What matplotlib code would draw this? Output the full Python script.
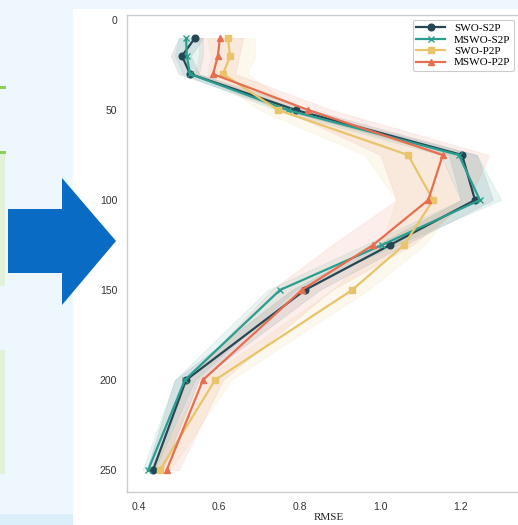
import matplotlib
matplotlib.use("Agg")
import matplotlib.pyplot as plt
from matplotlib.patches import Rectangle, Polygon
import numpy as np

# ---------------- data ----------------
depth = [10, 20, 30, 50, 75, 100, 125, 150, 200, 250]

swo_s2p = [0.540, 0.508, 0.528, 0.790, 1.203, 1.235, 1.024, 0.813, 0.518, 0.436]
swo_s2p_lo = [0.50, 0.48, 0.50, 0.76, 1.17, 1.20, 0.99, 0.78, 0.49, 0.42]
swo_s2p_hi = [0.56, 0.53, 0.55, 0.83, 1.24, 1.28, 1.06, 0.85, 0.55, 0.46]

mswo_s2p = [0.518, 0.520, 0.528, 0.770, 1.195, 1.247, 1.004, 0.751, 0.515, 0.424]
mswo_s2p_lo = [0.50, 0.49, 0.51, 0.74, 1.15, 1.20, 0.96, 0.72, 0.49, 0.41]
mswo_s2p_hi = [0.56, 0.56, 0.55, 0.80, 1.24, 1.30, 1.04, 0.79, 0.54, 0.44]

swo_p2p = [0.622, 0.627, 0.610, 0.746, 1.069, 1.131, 1.059, 0.930, 0.590, 0.453]
swo_p2p_lo = [0.57, 0.58, 0.57, 0.70, 0.96, 1.04, 1.00, 0.88, 0.56, 0.43]
swo_p2p_hi = [0.69, 0.69, 0.67, 0.80, 1.15, 1.20, 1.11, 0.97, 0.63, 0.48]

mswo_p2p = [0.602, 0.597, 0.585, 0.821, 1.155, 1.119, 0.982, 0.805, 0.560, 0.470]
mswo_p2p_lo = [0.55, 0.55, 0.54, 0.76, 1.00, 1.04, 0.88, 0.73, 0.52, 0.44]
mswo_p2p_hi = [0.66, 0.65, 0.64, 0.88, 1.27, 1.22, 1.08, 0.88, 0.61, 0.50]

labels = ["SWO-S2P", "MSWO-S2P", "SWO-P2P", "MSWO-P2P"]
colors = ["#264653", "#2a9d8f", "#e9c46a", "#e76f51"]
markers = ["o", "x", "s", "^"]

x_ticks = [0.4, 0.6, 0.8, 1.0, 1.2]
y_ticks = [0, 50, 100, 150, 200, 250]

# ---------------- figure ----------------
W, H = 518, 525
fig = plt.figure(figsize=(W / 100, H / 100), dpi=100)
fig.patch.set_facecolor("#eef7fd")


def fx(x):
    return x / W


def fy(y):
    return 1 - y / H


def rect(x0, y0, x1, y1, color, z=-5):
    fig.patches.append(Rectangle((fx(x0), fy(y1)), fx(x1) - fx(x0), fy(y0) - fy(y1),
                                 transform=fig.transFigure, facecolor=color,
                                 edgecolor="none", zorder=z))


# background decorations (screenshot context)
rect(73, 9, 518, 525, "white")
rect(0, 514, 73, 525, "#dbeffa")
rect(0, 86, 6, 88.5, "#8dcf50")
rect(0, 151, 6, 153.5, "#8dcf50")
rect(0, 153.5, 5, 286, "#e2f2d9")
rect(0, 350, 5, 474, "#e2f2d9")

# axes
left, right = 127, 530
top, bottom = 15, 492
ax = fig.add_axes([fx(left), fy(bottom), fx(right) - fx(left), fy(top) - fy(bottom)])
ax.set_zorder(1)
ax.set_facecolor("white")

series = [
    (swo_s2p, swo_s2p_lo, swo_s2p_hi),
    (mswo_s2p, mswo_s2p_lo, mswo_s2p_hi),
    (swo_p2p, swo_p2p_lo, swo_p2p_hi),
    (mswo_p2p, mswo_p2p_lo, mswo_p2p_hi),
]

for (v, lo, hi), lab, c, m in zip(series, labels, colors, markers):
    ax.fill_betweenx(depth, lo, hi, color=c, alpha=0.11, linewidth=0.5)

for (v, lo, hi), lab, c, m in zip(series, labels, colors, markers):
    kw = dict(markersize=4.8)
    if m == "x":
        kw = dict(markersize=5, markeredgewidth=1.0)
    ax.plot(v, depth, color=c, marker=m, linewidth=1.6, label=lab, **kw)

ax.set_xlim(0.3715, 0.3715 + (right - left) / 403)
ax.set_ylim(262.2, -2.78)
ax.set_xticks(x_ticks)
ax.set_yticks(y_ticks)
ax.tick_params(length=0, labelsize=7.5, labelcolor="#333333", pad=7)
for lab in ax.get_xticklabels() + ax.get_yticklabels():
    lab.set_fontfamily("Liberation Sans")
for s in ax.spines.values():
    s.set_color("#cccccc")
    s.set_linewidth(1.0)

ax.set_xlabel("RMSE", fontfamily="Liberation Serif", fontsize=8, color="#222222", labelpad=1)

leg = ax.legend(loc="upper right", bbox_to_anchor=(fx(514), fy(20)),
                bbox_transform=fig.transFigure,
                prop={"family": "Liberation Serif", "size": 8},
                frameon=True, fancybox=True, framealpha=1, edgecolor="#cccccc",
                handlelength=2.6, borderpad=0.3, labelspacing=0.15,
                handletextpad=0.8, borderaxespad=0)
leg.get_frame().set_linewidth(0.8)

# blue arrow (screenshot decoration)
arrow_pts = [(8, 209), (62, 209), (62, 178), (116, 241), (62, 305), (62, 273), (8, 273)]
fig.patches.append(Polygon([(fx(a), fy(b)) for a, b in arrow_pts], closed=True,
                           transform=fig.transFigure, facecolor="#0a6bc4",
                           edgecolor="none", zorder=5))

fig.savefig("out.png", dpi=100, facecolor=fig.get_facecolor())
